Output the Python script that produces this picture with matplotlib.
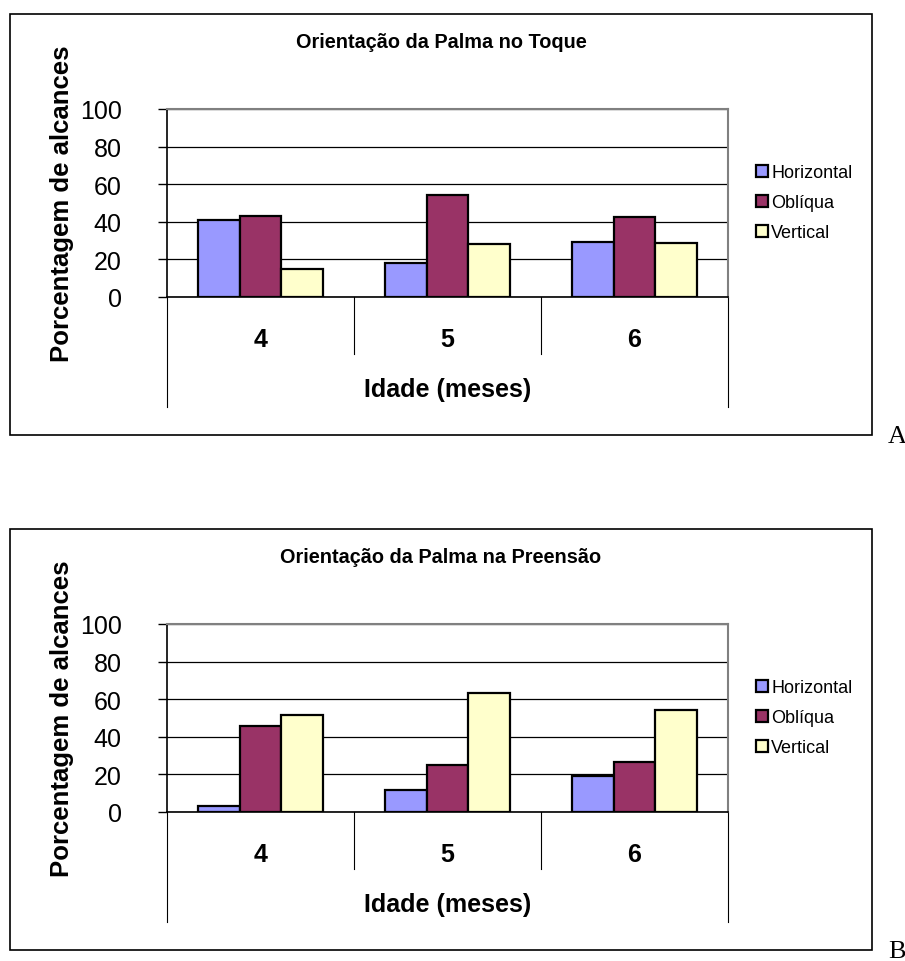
import matplotlib
matplotlib.use("Agg")
import matplotlib.pyplot as plt
from matplotlib.patches import Rectangle, Patch

plt.rcParams['font.family'] = ['Liberation Sans', 'DejaVu Sans']

W, H = 905, 962

ages = ["4", "5", "6"]
series_names = ["Horizontal", "Oblíqua", "Vertical"]
series_colors = ["#9999FF", "#993366", "#FFFFCC"]
yticks = [0, 20, 40, 60, 80, 100]

toque_horizontal = [41, 18, 29]
toque_obliqua = [43, 54, 42.5]
toque_vertical = [15, 28, 28.5]

preensao_horizontal = [3, 11.5, 19]
preensao_obliqua = [45.5, 25, 26.5]
preensao_vertical = [51.5, 63.5, 54]

titles = ["Orientação da Palma no Toque", "Orientação da Palma na Preensão"]
panel_letters = ["A", "B"]


def fig_rect(x0, y0, x1, y1):
    return [x0 / W, 1 - y1 / H, (x1 - x0) / W, (y1 - y0) / H]


fig = plt.figure(figsize=(W / 100, H / 100), dpi=100)


def draw_panel(off, title, letter, values):
    # outer chart box
    fig.patches.append(Rectangle((10 / W, 1 - (436 + off) / H), 862 / W, 421 / H,
                                 transform=fig.transFigure, fill=False,
                                 edgecolor="black", linewidth=1.2))

    ax = fig.add_axes(fig_rect(167, 110 + off, 728, 298 + off))
    n = len(series_names)
    bw = 1 / 4.5
    for i, (name, vals) in enumerate(zip(series_names, values)):
        xs = [k + (i - (n - 1) / 2) * bw for k in range(len(ages))]
        ax.bar(xs, vals, width=bw, color=series_colors[i], edgecolor="black",
               linewidth=1.6, zorder=3, label=name)

    ax.set_xlim(-0.5, len(ages) - 0.5)
    ax.set_ylim(0, 100)
    ax.set_yticks(yticks)
    ax.tick_params(axis="y", direction="out", length=6.5, width=1, pad=26,
                   labelsize=18)
    ax.yaxis.grid(True, color="black", linewidth=0.9, zorder=0)

    ax.set_xticks(range(len(ages)))
    ax.set_xticklabels(ages, fontweight="bold", fontsize=18)
    ax.tick_params(axis="x", length=0, pad=21.5)

    for side in ["top", "right"]:
        ax.spines[side].set_color("#808080")
        ax.spines[side].set_linewidth(1.5)
    ax.spines["left"].set_linewidth(1.2)
    ax.spines["bottom"].set_linewidth(1.2)

    # category separators below the axis
    for k in range(len(ages) + 1):
        depth = 0.585 if k in (0, len(ages)) else 0.303
        ax.plot([k - 0.5, k - 0.5], [0, -depth], transform=ax.get_xaxis_transform(),
                clip_on=False, color="black", linewidth=0.8)

    ax.set_xlabel("Idade (meses)", fontweight="bold", fontsize=18)
    ax.xaxis.set_label_coords(0.5, -(390 - 298) / 188)
    ax.xaxis.label.set_va("center")
    ax.set_ylabel("Porcentagem de alcances", fontweight="bold", fontsize=18.5)
    ax.yaxis.set_label_coords((62 - 167) / 561, 0.5)
    ax.yaxis.label.set_va("center")

    fig.text(441 / W, 1 - (43 + off) / H, title, ha="center", va="center",
             fontweight="bold", fontsize=14.3)

    handles = [Patch(facecolor=c, edgecolor="black", linewidth=1.6) for c in series_colors]
    fig.legend(handles, series_names, loc="center left",
               bbox_to_anchor=(756 / W, 1 - (204 + off) / H),
               bbox_transform=fig.transFigure, frameon=False, fontsize=13,
               handlelength=0.65, handleheight=0.65, handletextpad=0.2,
               labelspacing=0.72, borderpad=0, borderaxespad=0)

    fig.text(897 / W, 1 - (437 + off) / H, letter, ha="center", va="center",
             family=["Liberation Serif", "DejaVu Serif"], fontsize=19)


draw_panel(0, titles[0], panel_letters[0],
           [toque_horizontal, toque_obliqua, toque_vertical])
draw_panel(515, titles[1], panel_letters[1],
           [preensao_horizontal, preensao_obliqua, preensao_vertical])

fig.savefig("out.png", dpi=100)
